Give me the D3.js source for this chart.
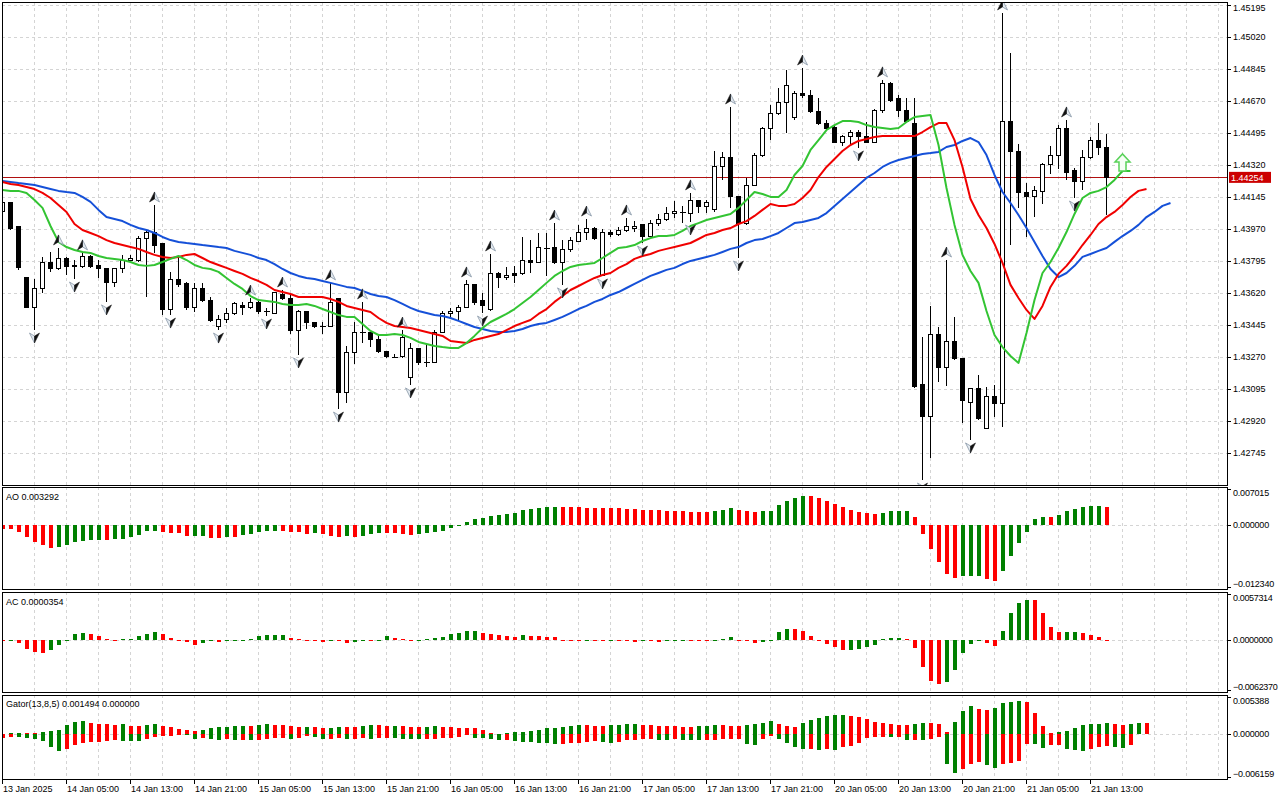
<!DOCTYPE html>
<html>
<head>
<meta charset="utf-8">
<title>H1 chart - Alligator, AO, AC, Gator</title>
<script src="https://cdn.jsdelivr.net/npm/d3@7"></script>
<style>
  html, body { margin: 0; padding: 0; background: #fff; }
  svg { display: block; font-family: "Liberation Sans", Arial, sans-serif; font-size: 9px; }
</style>
</head>
<body>
<svg id="chart" width="1280" height="800"></svg>
<script>
// ---- price data (one H1 bar per entry) ----
const open = [
  1.44065,1.44114,1.43983,1.43704,1.43545,1.43644,1.43791,1.43753,1.43808,1.43764,
  1.43764,1.43819,1.43770,1.43753,1.43677,1.43753,1.43802,1.43802,1.43917,1.43955,
  1.43890,1.43529,1.43698,1.43671,1.43545,1.43644,1.43583,1.43441,1.43474,1.43512,
  1.43556,1.43545,1.43567,1.43518,1.43512,1.43616,1.43589,1.43414,1.43518,1.43458,
  1.43441,1.43441,1.43589,1.43075,1.43294,1.43408,1.43403,1.43370,1.43299,1.43272,
  1.43272,1.43162,1.43316,1.43244,1.43244,1.43408,1.43512,1.43518,1.43545,1.43666,
  1.43578,1.43534,1.43726,1.43709,1.43726,1.43726,1.43797,1.43791,1.43868,1.43868,
  1.43786,1.43857,1.43906,1.43950,1.43972,1.43720,1.43950,1.43939,1.43966,1.43972,
  1.43994,1.43933,1.44004,1.44021,1.44054,1.44065,1.44059,1.44125,1.44092,1.44081,
  1.44311,1.44360,1.44147,1.43999,1.44212,1.44371,1.44519,1.44601,1.44661,1.44579,
  1.44715,1.44704,1.44612,1.44551,1.44524,1.44447,1.44480,1.44497,1.44475,1.44447,
  1.44622,1.44770,1.44688,1.44622,1.44551,1.43119,1.42944,1.43392,1.43212,1.43354,
  1.43261,1.43025,1.43097,1.42883,1.43058,1.43020,1.44562,1.44393,1.44169,1.44147,
  1.44174,1.44327,1.44376,1.44519,1.44294,1.44229,1.44360,1.44458,1.44420
];
const high = [
  1.44130,1.44120,1.43988,1.43709,1.43698,1.43819,1.43846,1.43868,1.43819,1.43802,
  1.43841,1.43830,1.43802,1.43759,1.43759,1.43830,1.43830,1.43933,1.43966,1.44103,
  1.43895,1.43737,1.43819,1.43682,1.43677,1.43677,1.43600,1.43501,1.43540,1.43573,
  1.43573,1.43594,1.43578,1.43540,1.43627,1.43638,1.43611,1.43529,1.43523,1.43463,
  1.43463,1.43677,1.43594,1.43332,1.43463,1.43573,1.43408,1.43392,1.43305,1.43288,
  1.43419,1.43348,1.43321,1.43348,1.43419,1.43523,1.43540,1.43556,1.43693,1.43671,
  1.43622,1.43835,1.43737,1.43764,1.43770,1.43928,1.43911,1.43950,1.43950,1.44004,
  1.43911,1.43928,1.43994,1.44026,1.43983,1.43972,1.43966,1.43983,1.44032,1.44015,
  1.43999,1.44021,1.44054,1.44092,1.44125,1.44098,1.44169,1.44130,1.44130,1.44398,
  1.44393,1.44639,1.44152,1.44251,1.44387,1.44529,1.44650,1.44743,1.44841,1.44726,
  1.44852,1.44732,1.44688,1.44568,1.44540,1.44486,1.44513,1.44513,1.44557,1.44628,
  1.44787,1.44776,1.44704,1.44688,1.44688,1.43381,1.43551,1.43436,1.43802,1.43491,
  1.43266,1.43102,1.43173,1.43108,1.43119,1.45153,1.44934,1.44437,1.44223,1.44207,
  1.44333,1.44426,1.44540,1.44568,1.44305,1.44404,1.44475,1.44551,1.44491
];
const low = [
  1.44048,1.43966,1.43748,1.43540,1.43419,1.43622,1.43737,1.43748,1.43720,1.43698,
  1.43759,1.43759,1.43704,1.43573,1.43655,1.43731,1.43786,1.43791,1.43600,1.43841,
  1.43501,1.43501,1.43655,1.43529,1.43518,1.43573,1.43463,1.43419,1.43458,1.43501,
  1.43501,1.43534,1.43507,1.43496,1.43507,1.43583,1.43397,1.43283,1.43425,1.43430,
  1.43397,1.43436,1.42987,1.43020,1.43233,1.43348,1.43326,1.43294,1.43266,1.43266,
  1.43266,1.43119,1.43228,1.43217,1.43239,1.43403,1.43491,1.43474,1.43540,1.43556,
  1.43512,1.43523,1.43649,1.43693,1.43677,1.43720,1.43731,1.43786,1.43715,1.43780,
  1.43666,1.43846,1.43901,1.43911,1.43911,1.43715,1.43928,1.43933,1.43955,1.43955,
  1.43895,1.43928,1.43988,1.44015,1.44032,1.44004,1.44010,1.44059,1.44059,1.44065,
  1.44240,1.44087,1.43813,1.43994,1.44207,1.44365,1.44458,1.44595,1.44497,1.44568,
  1.44688,1.44606,1.44540,1.44513,1.44442,1.44426,1.44431,1.44415,1.44442,1.44442,
  1.44606,1.44666,1.44584,1.44551,1.43102,1.42599,1.42719,1.43135,1.43113,1.43255,
  1.42911,1.42818,1.42927,1.42878,1.42944,1.42889,1.43884,1.44087,1.43928,1.44037,
  1.44108,1.44273,1.44300,1.44240,1.44141,1.44185,1.44354,1.44376,1.44048
];
const close = [
  1.44114,1.43972,1.43759,1.43545,1.43644,1.43791,1.43753,1.43808,1.43764,1.43770,
  1.43819,1.43764,1.43753,1.43677,1.43753,1.43802,1.43808,1.43917,1.43955,1.43884,
  1.43529,1.43698,1.43666,1.43545,1.43644,1.43583,1.43469,1.43474,1.43512,1.43562,
  1.43545,1.43567,1.43518,1.43523,1.43622,1.43589,1.43414,1.43518,1.43458,1.43436,
  1.43443,1.43567,1.43075,1.43294,1.43403,1.43403,1.43370,1.43299,1.43272,1.43274,
  1.43381,1.43316,1.43239,1.43246,1.43408,1.43512,1.43518,1.43545,1.43666,1.43567,
  1.43551,1.43726,1.43709,1.43720,1.43715,1.43797,1.43791,1.43868,1.43866,1.43786,
  1.43857,1.43911,1.43950,1.43972,1.43917,1.43950,1.43939,1.43966,1.43988,1.43988,
  1.43933,1.44004,1.44021,1.44054,1.44065,1.44067,1.44125,1.44092,1.44114,1.44316,
  1.44360,1.44147,1.43999,1.44212,1.44376,1.44519,1.44601,1.44661,1.44759,1.44715,
  1.44704,1.44612,1.44546,1.44519,1.44447,1.44475,1.44497,1.44475,1.44447,1.44622,
  1.44770,1.44677,1.44622,1.44557,1.43108,1.42944,1.43392,1.43212,1.43354,1.43261,
  1.43036,1.43097,1.42933,1.43058,1.43020,1.44557,1.44393,1.44169,1.44147,1.44180,
  1.44327,1.44376,1.44519,1.44283,1.44229,1.44360,1.44458,1.44420,1.44254
];

// ---- Alligator lines as drawn (already shifted forward) ----
const jaw = [
  1.44234,1.44229,1.44223,1.44218,1.44212,1.44201,1.44190,1.44180,1.44174,1.44169,
  1.44147,1.44120,1.44076,1.44037,1.44026,1.44015,1.43994,1.43977,1.43966,1.43950,
  1.43928,1.43911,1.43901,1.43895,1.43890,1.43884,1.43879,1.43873,1.43868,1.43852,
  1.43841,1.43830,1.43813,1.43802,1.43780,1.43753,1.43731,1.43715,1.43704,1.43698,
  1.43687,1.43677,1.43666,1.43655,1.43649,1.43633,1.43616,1.43605,1.43600,1.43583,
  1.43562,1.43540,1.43523,1.43512,1.43501,1.43496,1.43485,1.43469,1.43452,1.43436,
  1.43425,1.43414,1.43408,1.43408,1.43414,1.43425,1.43441,1.43452,1.43458,1.43474,
  1.43491,1.43512,1.43534,1.43551,1.43573,1.43589,1.43611,1.43627,1.43649,1.43671,
  1.43693,1.43715,1.43731,1.43748,1.43759,1.43780,1.43797,1.43808,1.43819,1.43830,
  1.43846,1.43863,1.43873,1.43895,1.43911,1.43917,1.43933,1.43950,1.43977,1.44004,
  1.44010,1.44021,1.44032,1.44059,1.44098,1.44136,1.44174,1.44212,1.44251,1.44278,
  1.44311,1.44333,1.44349,1.44360,1.44371,1.44382,1.44387,1.44393,1.44420,1.44431,
  1.44453,1.44469,1.44447,1.44376,1.44267,1.44174,1.44114,1.44048,1.43977,1.43901,
  1.43824,1.43753,1.43709,1.43731,1.43770,1.43819,1.43835,1.43852,1.43868,1.43901,
  1.43933,1.43961,1.43994,1.44037,1.44065,1.44098,1.44114
];
const teeth = [
  1.44229,1.44218,1.44212,1.44201,1.44190,1.44169,1.44141,1.44103,1.44065,1.43999,
  1.43966,1.43950,1.43933,1.43911,1.43895,1.43884,1.43873,1.43863,1.43846,1.43830,
  1.43819,1.43813,1.43819,1.43830,1.43835,1.43813,1.43791,1.43775,1.43759,1.43742,
  1.43726,1.43704,1.43687,1.43666,1.43638,1.43627,1.43616,1.43600,1.43600,1.43600,
  1.43600,1.43589,1.43573,1.43551,1.43540,1.43529,1.43518,1.43485,1.43458,1.43441,
  1.43436,1.43430,1.43419,1.43408,1.43397,1.43387,1.43359,1.43354,1.43348,1.43365,
  1.43376,1.43387,1.43397,1.43419,1.43441,1.43458,1.43474,1.43507,1.43534,1.43573,
  1.43605,1.43638,1.43660,1.43682,1.43704,1.43720,1.43731,1.43759,1.43780,1.43808,
  1.43824,1.43835,1.43852,1.43863,1.43873,1.43884,1.43895,1.43917,1.43939,1.43950,
  1.43966,1.43977,1.43999,1.44015,1.44043,1.44076,1.44108,1.44098,1.44098,1.44108,
  1.44141,1.44185,1.44256,1.44311,1.44354,1.44398,1.44431,1.44453,1.44464,1.44475,
  1.44480,1.44480,1.44480,1.44480,1.44480,1.44502,1.44529,1.44551,1.44551,1.44458,
  1.44311,1.44136,1.44048,1.43977,1.43890,1.43786,1.43666,1.43594,1.43529,1.43480,
  1.43551,1.43655,1.43726,1.43770,1.43824,1.43884,1.43939,1.43999,1.44037,1.44065,
  1.44103,1.44147,1.44180,1.44190
];
const lips = [
  1.44185,1.44180,1.44180,1.44169,1.44130,1.44087,1.43988,1.43901,1.43873,1.43857,
  1.43846,1.43841,1.43824,1.43813,1.43808,1.43802,1.43791,1.43775,1.43770,1.43775,
  1.43791,1.43808,1.43824,1.43802,1.43775,1.43759,1.43753,1.43737,1.43704,1.43671,
  1.43644,1.43605,1.43583,1.43578,1.43573,1.43562,1.43556,1.43556,1.43562,1.43551,
  1.43534,1.43518,1.43501,1.43491,1.43491,1.43452,1.43414,1.43392,1.43392,1.43397,
  1.43392,1.43376,1.43354,1.43343,1.43332,1.43326,1.43321,1.43321,1.43348,1.43387,
  1.43430,1.43463,1.43485,1.43507,1.43534,1.43567,1.43600,1.43638,1.43677,1.43715,
  1.43742,1.43764,1.43775,1.43780,1.43786,1.43813,1.43841,1.43868,1.43873,1.43884,
  1.43906,1.43922,1.43933,1.43933,1.43939,1.43961,1.43988,1.44004,1.44021,1.44032,
  1.44043,1.44054,1.44087,1.44130,1.44174,1.44163,1.44147,1.44147,1.44185,1.44267,
  1.44316,1.44404,1.44458,1.44513,1.44540,1.44562,1.44562,1.44557,1.44540,1.44529,
  1.44524,1.44519,1.44524,1.44557,1.44584,1.44590,1.44595,1.44431,1.44196,1.43994,
  1.43830,1.43742,1.43677,1.43523,1.43392,1.43326,1.43277,1.43239,1.43403,1.43583,
  1.43731,1.43791,1.43868,1.43955,1.44054,1.44141,1.44169,1.44180,1.44201,1.44240,
  1.44289,1.44289
];

// fractal bars and the alligator buy arrow
const fractalUp = [7,10,19,31,35,41,45,50,58,61,69,73,78,86,91,100,110,118,125,133];
const fractalDown = [4,9,13,21,27,33,37,42,51,60,70,75,80,86,92,107,115,121,134];
const buySignals = [{ bar: 140, price: 1.44289 }];

// ---- oscillators ----
const ao = [
  -0.00077,-0.00083,-0.00141,-0.00236,-0.00332,-0.00396,-0.00447,-0.00428,-0.00396,-0.00332,
  -0.00320,-0.00300,-0.00298,-0.00302,-0.00281,-0.00279,-0.00236,-0.00204,-0.00128,-0.00126,
  -0.00141,-0.00160,-0.00162,-0.00217,-0.00215,-0.00213,-0.00256,-0.00258,-0.00236,-0.00243,
  -0.00192,-0.00173,-0.00141,-0.00128,-0.00126,-0.00128,-0.00141,-0.00143,-0.00173,-0.00160,
  -0.00185,-0.00224,-0.00236,-0.00217,-0.00236,-0.00217,-0.00173,-0.00160,-0.00165,-0.00170,
  -0.00179,-0.00198,-0.00179,-0.00160,-0.00141,-0.00121,-0.00064,-0.00013,0.00045,0.00102,
  0.00121,0.00160,0.00185,0.00204,0.00224,0.00275,0.00294,0.00313,0.00332,0.00345,
  0.00332,0.00330,0.00328,0.00326,0.00324,0.00322,0.00320,0.00313,0.00294,0.00292,
  0.00287,0.00275,0.00273,0.00256,0.00254,0.00252,0.00250,0.00248,0.00236,0.00256,
  0.00275,0.00313,0.00275,0.00256,0.00236,0.00256,0.00258,0.00371,0.00460,0.00505,
  0.00543,0.00541,0.00505,0.00460,0.00402,0.00332,0.00275,0.00236,0.00217,0.00198,
  0.00217,0.00256,0.00258,0.00260,0.00141,-0.00179,-0.00466,-0.00715,-0.00945,-0.01022,
  -0.00990,-0.00988,-0.00986,-0.01041,-0.01086,-0.00894,-0.00607,-0.00351,-0.00141,0.00102,
  0.00141,0.00139,0.00179,0.00256,0.00294,0.00332,0.00351,0.00353,0.003292
];
const aoColors =
  "rrrrrrrggg" + "gggrgggggg" + "rrrrggrrgr" + "gggggrrrrg" + "rrrgrgggrr" +
  "rrgggggggg" + "gggggggggg" + "rrrrrrrrrr" + "rrrrrrrrrg" + "ggrrrggggg" +
  "grrrrrrrrr" + "ggggrrrrrr" + "gggrrggggg" + "grggggggr";

const ac = [
  -0.00002,0.00004,-0.00041,-0.00106,-0.00150,-0.00152,-0.00126,-0.00065,-0.00008,0.00065,
  0.00077,0.00065,0.00041,0.00008,0.00004,0.00008,0.00012,0.00041,0.00065,0.00090,
  0.00065,0.00028,0.00004,-0.00028,-0.00065,-0.00041,-0.00016,-0.00028,-0.00016,-0.00008,
  -0.00004,0.00012,0.00041,0.00053,0.00054,0.00055,0.00028,0.00008,-0.00004,-0.00016,
  -0.00028,-0.00008,-0.00012,-0.00041,-0.00024,-0.00008,-0.00016,-0.00004,0.00041,0.00028,
  0.00005,0.00002,0.00003,0.00012,0.00020,0.00037,0.00073,0.00086,0.00110,0.00112,
  0.00086,0.00073,0.00061,0.00049,0.00037,0.00061,0.00049,0.00047,0.00037,0.00035,
  -0.00004,-0.00005,-0.00006,-0.00003,-0.00006,-0.00008,-0.00004,-0.00010,-0.00016,-0.00020,
  -0.00004,-0.00016,-0.00020,-0.00016,-0.00004,-0.00002,-0.00003,-0.00006,-0.00012,-0.00004,
  0.00008,0.00037,-0.00004,-0.00006,-0.00033,-0.00020,-0.00004,0.00098,0.00134,0.00132,
  0.00110,0.00049,-0.00004,-0.00045,-0.00081,-0.00118,-0.00116,-0.00106,-0.00081,-0.00057,
  0.00012,0.00024,0.00026,0.00012,-0.00094,-0.00326,-0.00488,-0.00533,-0.00509,-0.00366,
  -0.00155,-0.00045,-0.00012,-0.00033,-0.00069,0.00110,0.00317,0.00440,0.00476,0.00474,
  0.00317,0.00159,0.00090,0.00092,0.00094,0.00086,0.00061,0.00037,0.0000354
];
const acColors =
  "rgrrrrgggg" + "grrrrggggg" + "rrrrrggrgg" + "ggggggrrrr" + "rgrrggrggr" +
  "rrgggggggg" + "rrrrrgrrrr" + "rrrgrrgrrr" + "grrgggrrrg" + "ggrrrggggr" +
  "rrrrrrgggg" + "gggrrrrrgg" + "gggrrggggr" + "rrrggrrrr";

const gatorUp = [
  0.00009,0.00019,0.00023,0.00019,0.00014,0.00028,0.00047,0.00052,0.00127,0.00169,
  0.00178,0.00150,0.00145,0.00136,0.00131,0.00136,0.00113,0.00108,0.00131,0.00136,
  0.00113,0.00094,0.00066,0.00061,0.00038,0.00056,0.00084,0.00094,0.00103,0.00108,
  0.00113,0.00108,0.00131,0.00141,0.00131,0.00127,0.00113,0.00094,0.00098,0.00094,
  0.00084,0.00089,0.00103,0.00098,0.00094,0.00113,0.00131,0.00127,0.00113,0.00117,
  0.00113,0.00098,0.00094,0.00103,0.00113,0.00098,0.00094,0.00089,0.00084,0.00080,
  0.00056,0.00019,0.00005,0.00014,0.00028,0.00033,0.00042,0.00056,0.00084,0.00089,
  0.00098,0.00113,0.00127,0.00122,0.00117,0.00113,0.00127,0.00131,0.00141,0.00145,
  0.00127,0.00122,0.00117,0.00113,0.00108,0.00103,0.00098,0.00108,0.00113,0.00127,
  0.00122,0.00117,0.00113,0.00127,0.00141,0.00155,0.00183,0.00141,0.00113,0.00103,
  0.00155,0.00197,0.00225,0.00253,0.00258,0.00267,0.00253,0.00239,0.00211,0.00169,
  0.00155,0.00141,0.00127,0.00122,0.00141,0.00155,0.00150,0.00141,0.00028,0.00169,
  0.00324,0.00394,0.00352,0.00338,0.00366,0.00422,0.00436,0.00450,0.00436,0.00295,
  0.00113,0.00014,0.00028,0.00042,0.00084,0.00127,0.00141,0.00145,0.00150,0.00141,
  0.00127,0.00141,0.00155,0.001494
];
const gatorUpColors =
  "rggrrggggg" + "grrrrgrrgg" + "rrrrrggggg" + "grggrrrrgr" + "rggrrggrrg" +
  "rrrggrrrrr" + "rrrggggggg" + "gggrrrgggg" + "rrrrrrrggg" + "rrrggggrrr" +
  "ggggggrrrr" + "rrrrggrrrg" + "ggrrggggrr" + "rrgggggggr" + "rggr";

const gatorDown = [
  -0.00047,-0.00038,-0.00042,-0.00056,-0.00066,-0.00094,-0.00178,-0.00225,-0.00197,-0.00150,
  -0.00122,-0.00113,-0.00108,-0.00094,-0.00084,-0.00089,-0.00094,-0.00098,-0.00066,-0.00038,
  -0.00023,-0.00019,-0.00009,-0.00014,-0.00066,-0.00047,-0.00066,-0.00075,-0.00070,-0.00084,
  -0.00075,-0.00084,-0.00075,-0.00066,-0.00056,-0.00047,-0.00066,-0.00056,-0.00028,-0.00038,
  -0.00066,-0.00061,-0.00056,-0.00066,-0.00061,-0.00047,-0.00066,-0.00056,-0.00047,-0.00056,
  -0.00061,-0.00066,-0.00070,-0.00066,-0.00061,-0.00056,-0.00052,-0.00038,-0.00014,-0.00052,
  -0.00056,-0.00066,-0.00080,-0.00075,-0.00094,-0.00108,-0.00113,-0.00117,-0.00122,-0.00136,
  -0.00131,-0.00122,-0.00117,-0.00108,-0.00094,-0.00108,-0.00122,-0.00108,-0.00080,-0.00075,
  -0.00066,-0.00061,-0.00080,-0.00084,-0.00070,-0.00075,-0.00080,-0.00084,-0.00080,-0.00075,
  -0.00070,-0.00066,-0.00061,-0.00136,-0.00150,-0.00066,-0.00028,-0.00066,-0.00122,-0.00178,
  -0.00206,-0.00202,-0.00220,-0.00206,-0.00220,-0.00178,-0.00164,-0.00122,-0.00052,-0.00038,
  -0.00033,-0.00038,-0.00033,-0.00084,-0.00080,-0.00084,-0.00066,-0.00038,-0.00403,-0.00530,
  -0.00474,-0.00403,-0.00389,-0.00417,-0.00460,-0.00403,-0.00399,-0.00375,-0.00136,-0.00141,
  -0.00188,-0.00150,-0.00145,-0.00206,-0.00220,-0.00235,-0.00206,-0.00178,-0.00164,-0.00178,
  -0.00192,-0.00155
];
const gatorDownColors =
  "rrggggggrr" + "rrrrrgggrr" + "rrrggrggrg" + "rgrrrrgrrg" + "grrgrrgrrg" +
  "gggrrrrrrg" + "gggrgggggg" + "rrrrrggrrr" + "rrggrgggrr" + "rrrggrrggg" +
  "grgrgrrrrr" + "rgrgrgrrgg" + "rrrggrrrrg" + "grrgggrrrg" + "gr";

// ---- axis labels ----
const priceTicks = [1.45195,1.45020,1.44845,1.44670,1.44495,1.44320,1.44145,1.43970,
                    1.43795,1.43620,1.43445,1.43270,1.43095,1.42920,1.42745];
const aoTicks = [0.007015, 0, -0.012340];
const acTicks = [0.0057314, 0, -0.0062370];
const gatorTicks = [0.005388, 0, -0.006159];
const timeTickBars = [0,8,16,24,32,40,48,56,64,72,80,88,96,104,112,120,128,136];
const timeTickLabels = ["13 Jan 2025","14 Jan 05:00","14 Jan 13:00","14 Jan 21:00",
  "15 Jan 05:00","15 Jan 13:00","15 Jan 21:00","16 Jan 05:00","16 Jan 13:00",
  "16 Jan 21:00","17 Jan 05:00","17 Jan 13:00","17 Jan 21:00","20 Jan 05:00",
  "20 Jan 13:00","20 Jan 21:00","21 Jan 05:00","21 Jan 13:00"];

// -------------------------------------------------------------------------

var GREEN = "#008000", RED = "#ff0000", GRID = "#d4d4d4";
var LEFT = 2, RIGHT = 1227;

var panes = {
  main:  { top: 2,   bottom: 485 },
  ao:    { top: 487, bottom: 589 },
  ac:    { top: 592, bottom: 692 },
  gator: { top: 695, bottom: 779 }
};

var svg = d3.select("#chart");
svg.append("rect").attr("width", 1280).attr("height", 800).attr("fill", "#fff");

// bar index -> x, 8px per bar
var x = d3.scaleLinear().domain([0, 153]).range([2.5, 1226.5]);

var yMain = d3.scaleLinear()
  .domain([priceTicks[priceTicks.length - 1], priceTicks[0]])
  .range([453.3, 5.3]);
panes.main.y = yMain;
panes.ao.y = d3.scaleLinear().domain([aoTicks[2], aoTicks[0]]).range([panes.ao.bottom, panes.ao.top + 1]);
panes.ac.y = d3.scaleLinear().domain([acTicks[2], acTicks[0]]).range([panes.ac.bottom, panes.ac.top]);
panes.gator.y = d3.scaleLinear().domain([gatorTicks[2], gatorTicks[0]]).range([panes.gator.bottom, panes.gator.top]);

var defs = svg.append("defs");
Object.keys(panes).forEach(function (k) {
  var p = panes[k];
  defs.append("clipPath").attr("id", "clip-" + k).append("rect")
    .attr("x", LEFT).attr("y", p.top).attr("width", RIGHT - LEFT).attr("height", p.bottom - p.top);
});

function px(v) { return Math.round(v) + 0.5; }

// grids
Object.keys(panes).forEach(function (k) {
  var p = panes[k];
  var g = svg.append("g").attr("clip-path", "url(#clip-" + k + ")");
  g.selectAll(null).data(d3.range(4, 154, 4)).join("line")
    .attr("x1", function (d) { return x(d); }).attr("x2", function (d) { return x(d); })
    .attr("y1", p.top).attr("y2", p.bottom)
    .attr("stroke", GRID).attr("stroke-dasharray", "3,3");
  var hs = (k === "main") ? priceTicks : [0];
  g.selectAll(null).data(hs).join("line")
    .attr("x1", LEFT).attr("x2", RIGHT)
    .attr("y1", function (d) { return px(p.y(d)); }).attr("y2", function (d) { return px(p.y(d)); })
    .attr("stroke", GRID).attr("stroke-dasharray", "3,3");
});

// ---- main pane ----
var main = svg.append("g").attr("clip-path", "url(#clip-main)");

// current price line
var last = close.length - 1;
main.append("line")
  .attr("x1", LEFT).attr("x2", RIGHT)
  .attr("y1", px(yMain(close[last]))).attr("y2", px(yMain(close[last])))
  .attr("stroke", "#b01010").attr("stroke-width", 1);

// candles
var candles = main.append("g").attr("shape-rendering", "crispEdges");
close.forEach(function (c, i) {
  var cx = x(i), o = open[i];
  candles.append("line")
    .attr("x1", cx).attr("x2", cx)
    .attr("y1", yMain(high[i])).attr("y2", yMain(low[i]))
    .attr("stroke", "#000");
  var y0 = yMain(Math.max(o, c)), y1 = yMain(Math.min(o, c));
  if (y1 - y0 < 1) {
    candles.append("line")
      .attr("x1", cx - 2.5).attr("x2", cx + 3.5)
      .attr("y1", px(y0)).attr("y2", px(y0))
      .attr("stroke", "#000");
  } else {
    candles.append("rect")
      .attr("x", cx - 2).attr("width", 4)
      .attr("y", y0).attr("height", y1 - y0)
      .attr("fill", c >= o ? "#fff" : "#000")
      .attr("stroke", "#000");
  }
});

// alligator
var line = d3.line().x(function (d, i) { return x(i); }).y(function (d) { return yMain(d); });
[[jaw, "#1550d8"], [teeth, "#f00000"], [lips, "#33c433"]].forEach(function (s) {
  main.append("path").attr("d", line(s[0]))
    .attr("fill", "none").attr("stroke", s[1]).attr("stroke-width", 2)
    .attr("stroke-linejoin", "round");
});

// fractal arrows
function fractalMark(cx, cy, up) {
  var s = up ? 1 : -1;
  var tip = cy - 5 * s, wing = cy + 5 * s, notch = cy + 2 * s;
  var dark = up ? -5 : 5, light = -dark;
  main.append("path")
    .attr("d", "M" + cx + "," + tip + "L" + (cx + light) + "," + wing + "L" + cx + "," + notch + "Z")
    .attr("fill", "#e4eaf0").attr("stroke", "#8696a6").attr("stroke-width", 0.8);
  main.append("path")
    .attr("d", "M" + cx + "," + tip + "L" + (cx + dark) + "," + wing + "L" + cx + "," + notch + "Z")
    .attr("fill", "#111").attr("stroke", "#111").attr("stroke-width", 0.5);
}
fractalUp.forEach(function (i) { fractalMark(x(i), yMain(high[i]) - 8, true); });
fractalDown.forEach(function (i) { fractalMark(x(i), yMain(low[i]) + 8, false); });

// buy arrow
buySignals.forEach(function (s) {
  var cx = x(s.bar), b = yMain(s.price);
  var pts = [[cx - 3.5, b], [cx - 3.5, b - 9], [cx - 7.5, b - 9], [cx, b - 17],
             [cx + 7.5, b - 9], [cx + 3.5, b - 9], [cx + 3.5, b]];
  main.append("path").attr("d", "M" + pts.join("L") + "Z")
    .attr("fill", "#f6fff6").attr("stroke", "#5ad25a").attr("stroke-width", 1.5);
});

// ---- histogram panes ----
function histogram(key, values, colors) {
  var p = panes[key], y = p.y, y0 = y(0);
  var g = svg.append("g").attr("clip-path", "url(#clip-" + key + ")").attr("shape-rendering", "crispEdges");
  values.forEach(function (v, i) {
    var yv = y(v), top = Math.min(yv, y0), h = Math.max(Math.abs(yv - y0), 1);
    g.append("rect")
      .attr("x", x(i) - 2).attr("width", 4)
      .attr("y", top).attr("height", h)
      .attr("fill", colors[i] === "g" ? GREEN : RED);
  });
}
histogram("ao", ao, aoColors);
histogram("ac", ac, acColors);
histogram("gator", gatorUp, gatorUpColors);
histogram("gator", gatorDown, gatorDownColors);

// pane frames
var frames = svg.append("g").attr("shape-rendering", "crispEdges");
Object.keys(panes).forEach(function (k) {
  var p = panes[k];
  frames.append("rect")
    .attr("x", LEFT + 0.5).attr("y", p.top + 0.5)
    .attr("width", RIGHT - LEFT).attr("height", p.bottom - p.top)
    .attr("fill", "none").attr("stroke", "#000");
});

// ---- right axis ----
var axis = svg.append("g");
function rightLabels(key, ticks, fmt, spacing) {
  var p = panes[key];
  ticks.forEach(function (v) {
    var yv = p.y(v);
    var ty = Math.min(Math.max(yv, p.top + 6), p.bottom - 5);
    var tk = Math.min(Math.max(yv, p.top + 2), p.bottom - 2);
    axis.append("line").attr("x1", RIGHT).attr("x2", RIGHT + 4)
      .attr("y1", px(tk)).attr("y2", px(tk)).attr("stroke", "#000");
    axis.append("text").attr("x", RIGHT + 6).attr("y", ty).attr("dy", "0.35em")
      .attr("letter-spacing", spacing || 0)
      .text(fmt(v));
  });
}
rightLabels("main", priceTicks, d3.format(".5f"));
rightLabels("ao", aoTicks, d3.format(".6f"), -0.2);
rightLabels("ac", acTicks, d3.format(".7f"), -0.35);
rightLabels("gator", gatorTicks, d3.format(".6f"), -0.2);

// last price box
var lp = yMain(close[last]);
axis.append("rect").attr("x", RIGHT + 2).attr("y", lp - 5.5).attr("width", 42).attr("height", 11)
  .attr("fill", "#cc0000");
axis.append("text").attr("x", RIGHT + 4).attr("y", lp).attr("dy", "0.35em")
  .attr("fill", "#fff").text(d3.format(".5f")(close[last]));

// ---- time axis ----
timeTickBars.forEach(function (b, k) {
  var tx = x(b);
  axis.append("line").attr("x1", tx).attr("x2", tx)
    .attr("y1", panes.gator.bottom).attr("y2", panes.gator.bottom + 5).attr("stroke", "#000");
  axis.append("text").attr("x", tx + 0.5).attr("y", 792).text(timeTickLabels[k]);
});

// ---- indicator captions ----
var f6 = d3.format(".6f"), f7 = d3.format(".7f");
var gl = gatorUp.length - 1;
svg.append("text").attr("x", 6).attr("y", 500).text("AO " + f6(ao[ao.length - 1]));
svg.append("text").attr("x", 6).attr("y", 605).text("AC " + f7(ac[ac.length - 1]));
svg.append("text").attr("x", 6).attr("y", 707)
  .text("Gator(13,8,5) " + f6(gatorUp[gl]) + " " + f6(gatorDown[gl] === undefined ? 0 : gatorDown[gl]));
</script>
</body>
</html>
